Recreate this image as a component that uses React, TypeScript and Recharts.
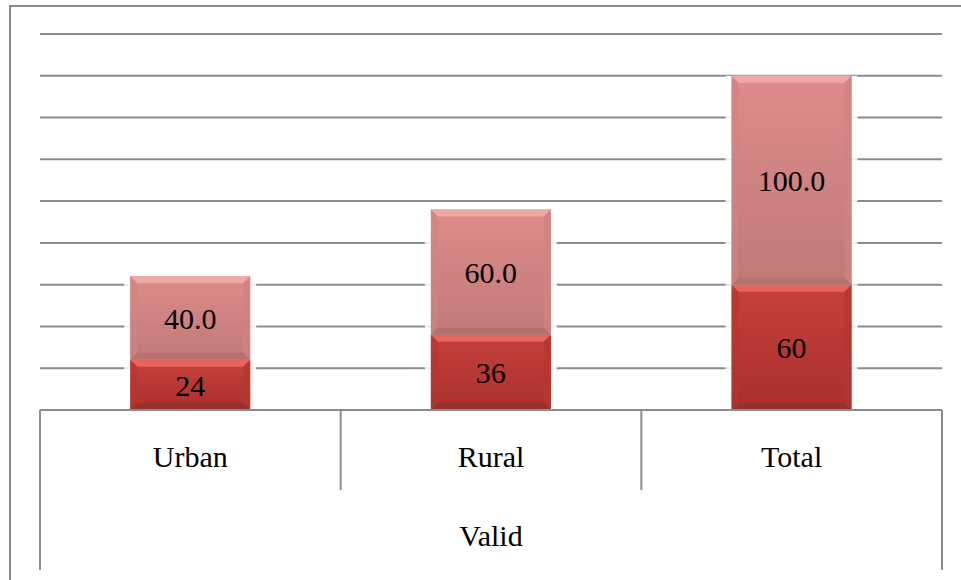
import React from 'react';
import { BarChart, Bar, XAxis, YAxis, CartesianGrid, LabelList, Label } from 'recharts';

const categories = ['Urban', 'Rural', 'Total'];
const countValues = [24, 36, 60];
const percentValues = [40.0, 60.0, 100.0];
const yTicks = [0, 20, 40, 60, 80, 100, 120, 140, 160, 180];
const groupLabel = 'Valid';

const data = categories.map((c, i) => ({ name: c, count: countValues[i], percent: percentValues[i] }));

const FONT = '"Liberation Serif", "Times New Roman", serif';
const GRID = '#8c8c8c';

type Palette = { id: string; top: string; bottom: string; bevelTop: string; bevelBottom: string; side: string };

const redPal: Palette = { id: 'gRed', top: '#C8403A', bottom: '#A8302D', bevelTop: '#E8655E', bevelBottom: '#94302A', side: '#B3372F' };
const pinkPal: Palette = { id: 'gPink', top: '#DE8C8B', bottom: '#C07978', bevelTop: '#EEA9A7', bevelBottom: '#B06F6E', side: '#CE8382' };

const makeShape = (p: Palette) => (props: any) => {
  const { x, y, width: w, height: h } = props;
  if (!h || h <= 0) return null;
  const b = Math.min(7, h / 3);
  return (
    <g>
      <rect x={x - 6} y={y} width={w + 12} height={h} fill="#ffffff" opacity={0.85} />
      <rect x={x} y={y} width={w} height={h} fill={`url(#${p.id})`} />
      <polygon points={`${x},${y} ${x + w},${y} ${x + w - b},${y + b} ${x + b},${y + b}`} fill={p.bevelTop} />
      <polygon points={`${x},${y + h} ${x + w},${y + h} ${x + w - b},${y + h - b} ${x + b},${y + h - b}`} fill={p.bevelBottom} opacity={0.8} />
      <polygon points={`${x},${y} ${x + b},${y + b} ${x + b},${y + h - b} ${x},${y + h}`} fill={p.side} opacity={0.6} />
      <polygon points={`${x + w},${y} ${x + w - b},${y + b} ${x + w - b},${y + h - b} ${x + w},${y + h}`} fill={p.side} opacity={0.8} />
    </g>
  );
};

const CategoryTick = (props: any) => {
  const { x, y, payload, index, visibleTicksCount } = props;
  const half = payload && typeof payload.offset === 'number' ? payload.offset : 0;
  const last = index === visibleTicksCount - 1;
  return (
    <g>
      <line x1={x - half} y1={y} x2={x - half} y2={y + (index === 0 ? 160 : 80)} stroke={GRID} strokeWidth={2} />
      {last && <line x1={x + half} y1={y} x2={x + half} y2={y + 160} stroke={GRID} strokeWidth={2} />}
      <text x={x} y={y + 57} textAnchor="middle" fontFamily={FONT} fontSize={30} fill="#000">
        {payload.value}
      </text>
    </g>
  );
};

export default function App() {
  return (
    <div style={{ position: 'absolute', left: 0, top: 0, width: 961, height: 580, overflow: 'hidden', background: '#fff' }}>
      <div style={{ position: 'absolute', left: 9, top: 5, width: 1000, height: 1000, border: '2px solid #8c8c8c', boxSizing: 'border-box' }} />
      <div style={{ position: 'absolute', left: 0, top: 0 }}>
        <BarChart width={961} height={580} data={data} margin={{ top: 34, right: 19, left: 40, bottom: 10 }} barCategoryGap="30%">
          <defs>
            <linearGradient id="gRed" x1="0" y1="0" x2="0" y2="1">
              <stop offset="0%" stopColor={redPal.top} />
              <stop offset="100%" stopColor={redPal.bottom} />
            </linearGradient>
            <linearGradient id="gPink" x1="0" y1="0" x2="0" y2="1">
              <stop offset="0%" stopColor={pinkPal.top} />
              <stop offset="100%" stopColor={pinkPal.bottom} />
            </linearGradient>
          </defs>
          <CartesianGrid vertical={false} stroke={GRID} strokeWidth={2} />
          <YAxis hide domain={[0, 180]} ticks={yTicks} />
          <XAxis
            dataKey="name"
            height={160}
            tickSize={0}
            tickMargin={0}
            tickLine={false}
            axisLine={{ stroke: GRID, strokeWidth: 2 }}
            tick={<CategoryTick />}
            interval={0}
          >
            <Label value={groupLabel} position="insideBottom" offset={24} fontSize={30} fontFamily={FONT} fill="#000" />
          </XAxis>
          <Bar dataKey="count" stackId="a" isAnimationActive={false} shape={makeShape(redPal)}>
            <LabelList dataKey="count" position="center" fontSize={30} fontFamily={FONT} fill="#000" formatter={(v: any) => `${v}`} />
          </Bar>
          <Bar dataKey="percent" stackId="a" isAnimationActive={false} shape={makeShape(pinkPal)}>
            <LabelList dataKey="percent" position="center" fontSize={30} fontFamily={FONT} fill="#000" formatter={(v: any) => Number(v).toFixed(1)} />
          </Bar>
        </BarChart>
      </div>
    </div>
  );
}
